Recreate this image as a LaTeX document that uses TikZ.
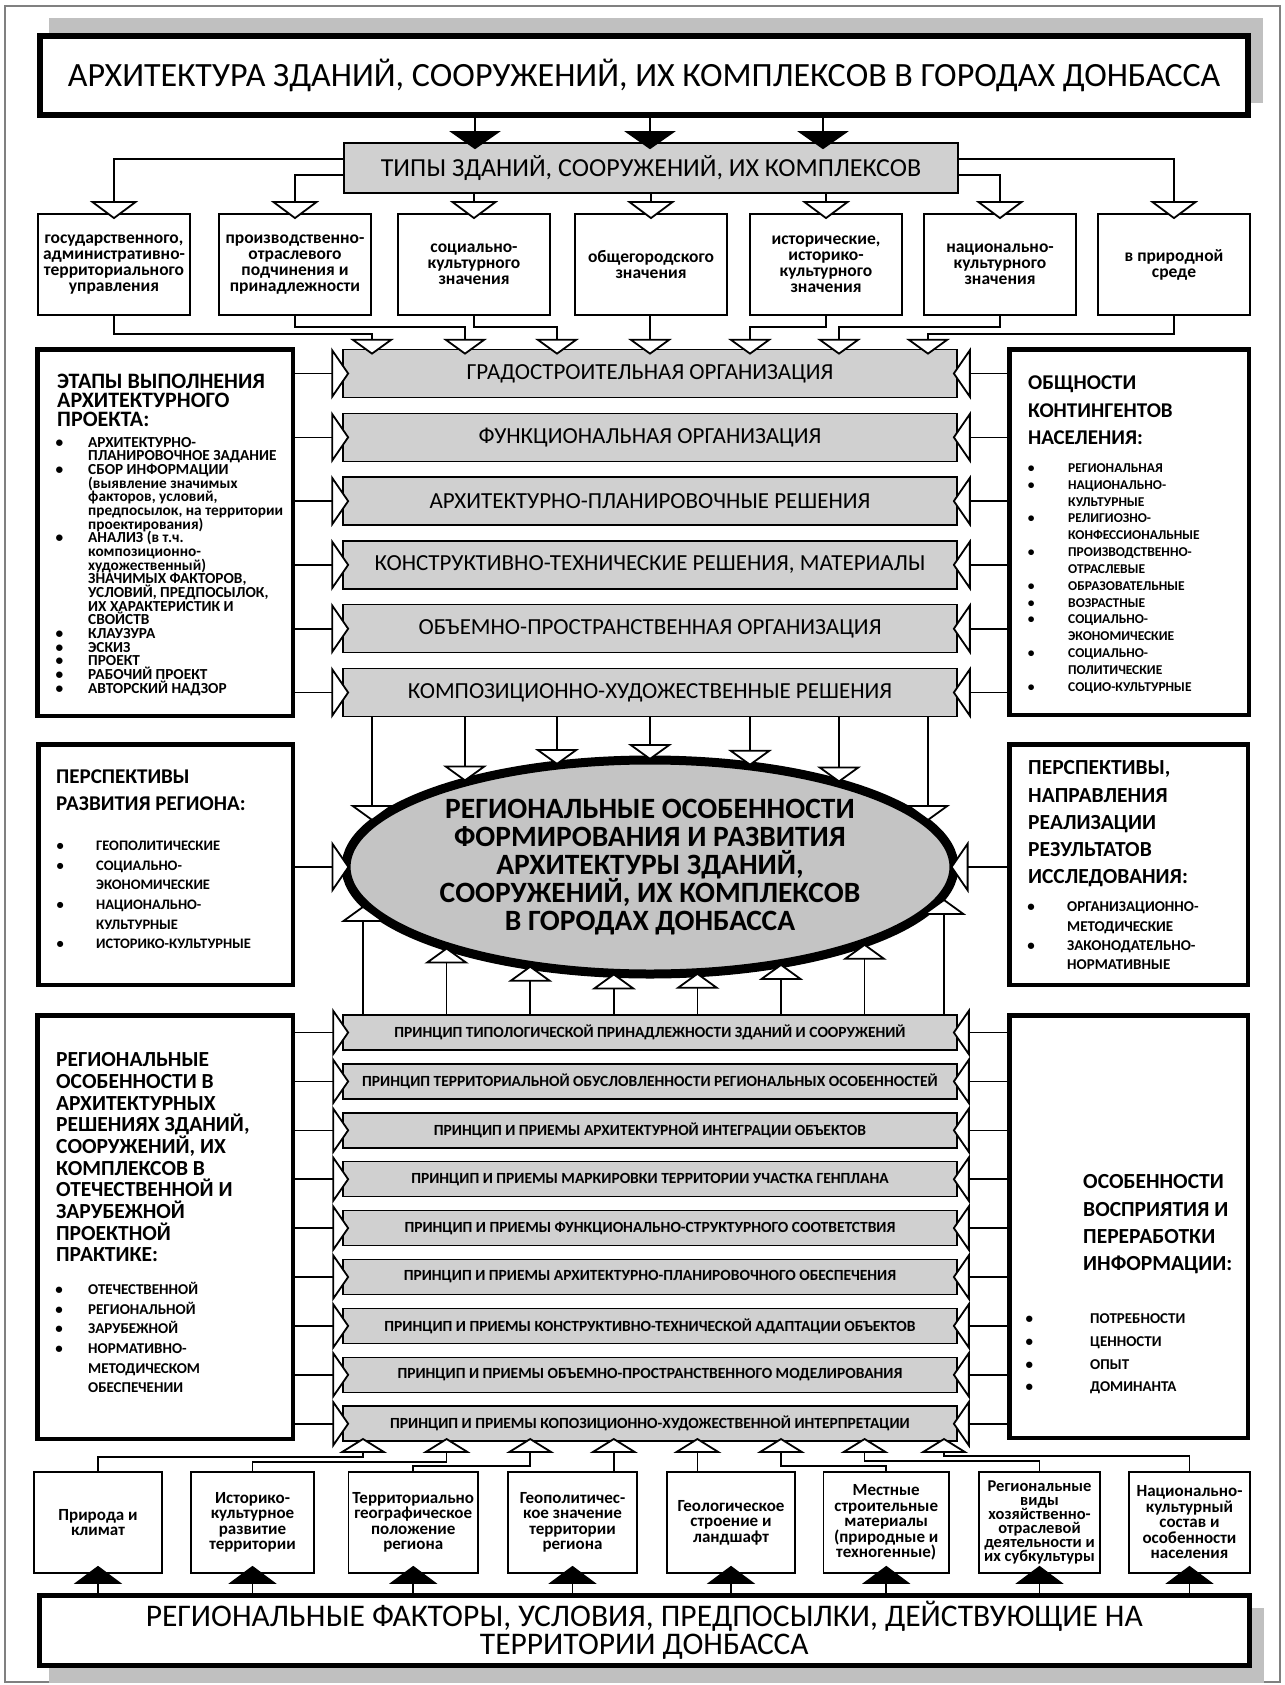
\documentclass[tikz,border=0pt]{standalone}
\usepackage{fontspec}
\setmainfont{Carlito}
\usepackage{tikz}
\usetikzlibrary{arrows.meta,calc,shapes.geometric}
\pgfdeclarelayer{bg}
\pgfsetlayers{bg,main}
\definecolor{bandgray}{HTML}{D0D0D0}
\definecolor{ellgray}{HTML}{C4C4C4}
\definecolor{shadowgray}{HTML}{C0C0C0}
\definecolor{framegray}{HTML}{808080}
\newcommand\fs[2]{\fontsize{#1}{#2}\selectfont\lineskiplimit=-100pt\lineskip=0pt\relax}
\newcommand\vtl[1]{\vtop{\halign{##\hfil\cr#1\crcr}}}
\newcommand\bu[1]{\llap{\textbullet\hskip#1pt}}
\begin{document}
\begin{tikzpicture}[x=1pt,y=-1pt,
  con/.style={draw=black, line width=1.6pt},
  tipA/.style={-{Triangle[width=44pt,length=16pt,fill=white,line width=1.8pt]}},
  tipT/.style={-{Triangle[width=48pt,length=18pt,fill=white,line width=1.8pt]}},
  tipS/.style={-{Triangle[width=52pt,length=18pt,fill=white,line width=1.8pt]}},
  tipP/.style={-{Triangle[width=49pt,length=17pt,fill=white,line width=1.8pt]}},
  tipB/.style={-{Triangle[width=48pt,length=15pt,fill=white,line width=1.8pt]}},
  tipK/.style={-{Triangle[width=51pt,length=18pt]}},
  tipKK/.style={-{Triangle[width=48pt,length=18pt]}},
  gbox/.style={draw=black, line width=1.5pt, fill=bandgray, inner sep=0pt},
  band/.style={gbox, minimum width=614pt, minimum height=48pt, font=\fs{23}{23}},
  pband/.style={gbox, minimum width=614pt, minimum height=35pt, font=\bfseries\fs{15.5}{15.5}},
  tbox/.style={draw=black, line width=1.6pt, fill=white, minimum width=152pt, minimum height=101pt, inner sep=0pt, align=center, font=\bfseries\fs{17.5}{16}},
  fbox/.style={draw=black, line width=1.6pt, fill=white, minimum height=101pt, inner sep=0pt, align=center, font=\bfseries\fs{17}{15.5}},
  sbox/.style={draw=black, line width=4.5pt, fill=white, inner sep=0pt},
  txt/.style={anchor=base west, inner sep=0pt},
]
\useasboundingbox (0,0) rectangle (1284,1685);
\fill[white] (0,0) rectangle (1284,1685);
\draw[framegray, line width=1.5pt] (5,6) rectangle (1280,1682);

% ---------- title ----------
\fill[shadowgray] (49,18) rectangle (1263,103);
\node[draw=black, line width=6pt, fill=white, minimum width=1208pt, minimum height=79pt, inner sep=0pt, font=\fs{34}{34}] (title) at (644,75.5) {АРХИТЕКТУРА ЗДАНИЙ, СООРУЖЕНИЙ, ИХ КОМПЛЕКСОВ В ГОРОДАХ ДОНБАССА};

\node[gbox, minimum width=614pt, minimum height=50pt, font=\fs{26}{26}] (types) at (651,168) {ТИПЫ ЗДАНИЙ, СООРУЖЕНИЙ, ИХ КОМПЛЕКСОВ};

% ---------- type boxes ----------
\node[tbox] (t1) at (114,264.5) {государственного,\\административно-\\территориального\\управления};
\node[tbox] (t2) at (295,264.5) {производственно-\\отраслевого\\подчинения и\\принадлежности};
\node[tbox] (t3) at (474,264.5) {социально-\\культурного\\значения};
\node[tbox] (t4) at (651,264.5) {общегородского\\значения};
\node[tbox] (t5) at (826,264.5) {исторические,\\историко-\\культурного\\значения};
\node[tbox] (t6) at (1000,264.5) {национально-\\культурного\\значения};
\node[tbox] (t7) at (1174,264.5) {в природной\\среде};

% ---------- side boxes ----------
\node[sbox, minimum width=255.5pt, minimum height=366.5pt] (L1) at (165,532.5) {};
\node[sbox, minimum width=239.5pt, minimum height=365.5pt] (R1) at (1129,532) {};
\node[sbox, minimum width=254.5pt, minimum height=240.5pt] (L2) at (165.5,864.5) {};
\node[sbox, minimum width=238.5pt, minimum height=240.5pt] (R2) at (1128.5,864.5) {};
\node[sbox, minimum width=255.5pt, minimum height=423.5pt] (L3) at (165,1227) {};
\node[sbox, minimum width=238.5pt, minimum height=422.5pt] (R3) at (1128.5,1226.5) {};

\node[txt, font=\bfseries\fs{22}{19}] (L1h) at (57,388) {\vtl{ЭТАПЫ ВЫПОЛНЕНИЯ\cr АРХИТЕКТУРНОГО\cr ПРОЕКТА:}};
\node[txt, font=\bfseries\fs{15.3}{13.67}] (L1b) at (88,447) {\vtl{%
\bu{25}АРХИТЕКТУРНО-\cr
ПЛАНИРОВОЧНОЕ ЗАДАНИЕ\cr
\bu{25}СБОР ИНФОРМАЦИИ\cr
(выявление значимых\cr
факторов, условий,\cr
предпосылок, на территории\cr
проектирования)\cr
\bu{25}АНАЛИЗ (в т.ч.\cr
композиционно-\cr
художественный)\cr
ЗНАЧИМЫХ ФАКТОРОВ,\cr
УСЛОВИЙ, ПРЕДПОСЫЛОК,\cr
ИХ ХАРАКТЕРИСТИК И\cr
СВОЙСТВ\cr
\bu{25}КЛАУЗУРА\cr
\bu{25}ЭСКИЗ\cr
\bu{25}ПРОЕКТ\cr
\bu{25}РАБОЧИЙ ПРОЕКТ\cr
\bu{25}АВТОРСКИЙ НАДЗОР}};

\node[txt, font=\bfseries\fs{21}{27.5}] (R1h) at (1028,389.6) {\vtl{ОБЩНОСТИ\cr КОНТИНГЕНТОВ\cr НАСЕЛЕНИЯ:}};
\node[txt, font=\bfseries\fs{13.5}{16.85}] (R1b) at (1068,472.3) {\vtl{%
\bu{33.6}РЕГИОНАЛЬНАЯ\cr
\bu{33.6}НАЦИОНАЛЬНО-\cr
КУЛЬТУРНЫЕ\cr
\bu{33.6}РЕЛИГИОЗНО-\cr
КОНФЕССИОНАЛЬНЫЕ\cr
\bu{33.6}ПРОИЗВОДСТВЕННО-\cr
ОТРАСЛЕВЫЕ\cr
\bu{33.6}ОБРАЗОВАТЕЛЬНЫЕ\cr
\bu{33.6}ВОЗРАСТНЫЕ\cr
\bu{33.6}СОЦИАЛЬНО-\cr
ЭКОНОМИЧЕСКИЕ\cr
\bu{33.6}СОЦИАЛЬНО-\cr
ПОЛИТИЧЕСКИЕ\cr
\bu{33.6}СОЦИО-КУЛЬТУРНЫЕ}};

\node[txt, font=\bfseries\fs{21}{27}] (L2h) at (56,783.6) {\vtl{ПЕРСПЕКТИВЫ\cr РАЗВИТИЯ РЕГИОНА:}};
\node[txt, font=\bfseries\fs{14.5}{19.6}] (L2b) at (96,850.6) {\vtl{%
\bu{32.4}ГЕОПОЛИТИЧЕСКИЕ\cr
\bu{32.4}СОЦИАЛЬНО-\cr
ЭКОНОМИЧЕСКИЕ\cr
\bu{32.4}НАЦИОНАЛЬНО-\cr
КУЛЬТУРНЫЕ\cr
\bu{32.4}ИСТОРИКО-КУЛЬТУРНЫЕ}};

\node[txt, font=\bfseries\fs{21.5}{27.25}] (R2h) at (1028,774.8) {\vtl{ПЕРСПЕКТИВЫ,\cr НАПРАВЛЕНИЯ\cr РЕАЛИЗАЦИИ\cr РЕЗУЛЬТАТОВ\cr ИССЛЕДОВАНИЯ:}};
\node[txt, font=\bfseries\fs{15}{19.3}] (R2b) at (1067,911.7) {\vtl{%
\bu{32.3}ОРГАНИЗАЦИОННО-\cr
МЕТОДИЧЕСКИЕ\cr
\bu{32.3}ЗАКОНОДАТЕЛЬНО-\cr
НОРМАТИВНЫЕ}};

\node[txt, font=\bfseries\fs{21.5}{21.67}] (L3h) at (56,1066.8) {\vtl{РЕГИОНАЛЬНЫЕ\cr ОСОБЕННОСТИ В\cr АРХИТЕКТУРНЫХ\cr РЕШЕНИЯХ ЗДАНИЙ,\cr СООРУЖЕНИЙ, ИХ\cr КОМПЛЕКСОВ В\cr ОТЕЧЕСТВЕННОЙ И\cr ЗАРУБЕЖНОЙ\cr ПРОЕКТНОЙ\cr ПРАКТИКЕ:}};
\node[txt, font=\bfseries\fs{15}{19.6}] (L3b) at (88,1294.7) {\vtl{%
\bu{25.3}ОТЕЧЕСТВЕННОЙ\cr
\bu{25.3}РЕГИОНАЛЬНОЙ\cr
\bu{25.3}ЗАРУБЕЖНОЙ\cr
\bu{25.3}НОРМАТИВНО-\cr
МЕТОДИЧЕСКОМ\cr
ОБЕСПЕЧЕНИИ}};

\node[txt, font=\bfseries\fs{21.5}{27.3}] (R3h) at (1083,1188.8) {\vtl{ОСОБЕННОСТИ\cr ВОСПРИЯТИЯ И\cr ПЕРЕРАБОТКИ\cr ИНФОРМАЦИИ:}};
\node[txt, font=\bfseries\fs{15}{22.7}] (R3b) at (1090,1323.7) {\vtl{%
\bu{57}ПОТРЕБНОСТИ\cr
\bu{57}ЦЕННОСТИ\cr
\bu{57}ОПЫТ\cr
\bu{57}ДОМИНАНТА}};

% ---------- upper bands ----------
\node[band] (g1) at (650,373.5) {ГРАДОСТРОИТЕЛЬНАЯ ОРГАНИЗАЦИЯ};
\node[band] (g2) at (650,437.3) {ФУНКЦИОНАЛЬНАЯ ОРГАНИЗАЦИЯ};
\node[band] (g3) at (650,501.1) {АРХИТЕКТУРНО-ПЛАНИРОВОЧНЫЕ РЕШЕНИЯ};
\node[band] (g4) at (650,564.9) {КОНСТРУКТИВНО-ТЕХНИЧЕСКИЕ РЕШЕНИЯ, МАТЕРИАЛЫ};
\node[band] (g5) at (650,628.7) {ОБЪЕМНО-ПРОСТРАНСТВЕННАЯ ОРГАНИЗАЦИЯ};
\node[band] (g6) at (650,692.5) {КОМПОЗИЦИОННО-ХУДОЖЕСТВЕННЫЕ РЕШЕНИЯ};

% ---------- ellipse ----------
\node[ellipse, draw=black, line width=9pt, fill=ellgray, minimum width=608pt, minimum height=214pt, inner sep=0pt, align=center, font=\bfseries\fs{29.5}{28}] (ell) at (650,867) {РЕГИОНАЛЬНЫЕ ОСОБЕННОСТИ\\ФОРМИРОВАНИЯ И РАЗВИТИЯ\\АРХИТЕКТУРЫ ЗДАНИЙ,\\СООРУЖЕНИЙ, ИХ КОМПЛЕКСОВ\\В ГОРОДАХ ДОНБАССА};

% ---------- principle bands ----------
\node[pband] (p1) at (650,1032.5) {ПРИНЦИП ТИПОЛОГИЧЕСКОЙ ПРИНАДЛЕЖНОСТИ ЗДАНИЙ И СООРУЖЕНИЙ};
\node[pband] (p2) at (650,1081.4) {ПРИНЦИП ТЕРРИТОРИАЛЬНОЙ ОБУСЛОВЛЕННОСТИ РЕГИОНАЛЬНЫХ ОСОБЕННОСТЕЙ};
\node[pband] (p3) at (650,1130.3) {ПРИНЦИП И ПРИЕМЫ АРХИТЕКТУРНОЙ ИНТЕГРАЦИИ ОБЪЕКТОВ};
\node[pband] (p4) at (650,1179.2) {ПРИНЦИП И ПРИЕМЫ МАРКИРОВКИ ТЕРРИТОРИИ УЧАСТКА ГЕНПЛАНА};
\node[pband] (p5) at (650,1228.1) {ПРИНЦИП И ПРИЕМЫ ФУНКЦИОНАЛЬНО-СТРУКТУРНОГО СООТВЕТСТВИЯ};
\node[pband] (p6) at (650,1277.0) {ПРИНЦИП И ПРИЕМЫ АРХИТЕКТУРНО-ПЛАНИРОВОЧНОГО ОБЕСПЕЧЕНИЯ};
\node[pband] (p7) at (650,1325.9) {ПРИНЦИП И ПРИЕМЫ КОНСТРУКТИВНО-ТЕХНИЧЕСКОЙ АДАПТАЦИИ ОБЪЕКТОВ};
\node[pband] (p8) at (650,1374.8) {ПРИНЦИП И ПРИЕМЫ ОБЪЕМНО-ПРОСТРАНСТВЕННОГО МОДЕЛИРОВАНИЯ};
\node[pband] (p9) at (650,1423.7) {ПРИНЦИП И ПРИЕМЫ КОПОЗИЦИОННО-ХУДОЖЕСТВЕННОЙ ИНТЕРПРЕТАЦИИ};

% ---------- factor boxes ----------
\node[fbox, minimum width=128pt] (f1) at (98,1522.5) {Природа и\\климат};
\node[fbox, minimum width=123pt] (f2) at (252.5,1522.5) {Историко-\\культурное\\развитие\\территории};
\node[fbox, minimum width=129.5pt] (f3) at (413.25,1522.5) {Территориально\\географическое\\положение\\региона};
\node[fbox, minimum width=129pt] (f4) at (572.5,1522.5) {Геополитичес-\\кое значение\\территории\\региона};
\node[fbox, minimum width=128pt] (f5) at (731,1522.5) {Геологическое\\строение и\\ландшафт};
\node[fbox, minimum width=125.5pt] (f6) at (886.25,1522.5) {Местные\\строительные\\материалы\\(природные и\\техногенные)};
\node[fbox, minimum width=121pt, font=\bfseries\fs{16.5}{14}] (f7) at (1039.5,1522.5) {Региональные\\виды\\хозяйственно-\\отраслевой\\деятельности и\\их субкультуры};
\node[fbox, minimum width=121pt] (f8) at (1189.5,1522.5) {Национально-\\культурный\\состав и\\особенности\\населения};

% ---------- bottom box ----------
\fill[shadowgray] (48.5,1608) rectangle (1264,1683);
\node[draw=black, line width=5pt, fill=white, minimum width=1210.5pt, minimum height=70pt, inner sep=0pt, align=center, font=\fs{31.5}{28}] (bot) at (644.25,1630.5) {РЕГИОНАЛЬНЫЕ ФАКТОРЫ, УСЛОВИЯ, ПРЕДПОСЫЛКИ, ДЕЙСТВУЮЩИЕ НА\\ТЕРРИТОРИИ ДОНБАССА};

% ---------- column coordinates ----------
\coordinate (k1) at (475,0);
\coordinate (k2) at (650,0);
\coordinate (k3) at (823,0);
\coordinate (e1) at (372,821);
\coordinate (e2) at (465,781.5);
\coordinate (e3) at (557,765);
\coordinate (e4) at (650,760);
\coordinate (e5) at (750,765.8);
\coordinate (e6) at (839,782.5);
\coordinate (e7) at (928,821);
\coordinate (b1) at (363,905.8);
\coordinate (b2) at (446.6,947.4);
\coordinate (b3) at (530.2,965.6);
\coordinate (b4) at (613.8,973.3);
\coordinate (b5) at (697.4,972.7);
\coordinate (b6) at (781,963.8);
\coordinate (b7) at (864.6,943.7);
\coordinate (b8) at (944,898.9);

% ---------- connectors ----------
\foreach \k in {k1,k2,k3}
  \draw[con,tipK] (title.south -| \k) -- ($(types.north -| \k)+(0,7)$);

\draw[con,tipT] ($(types.west)+(0,-9)$) -| ($(t1.north)+(0,6)$);
\draw[con,tipT] ($(types.west)+(0,7)$) -| ($(t2.north)+(0,6)$);
\draw[con,tipT] (types.south -| t3.north) -- ($(t3.north)+(0,6)$);
\draw[con,tipT] (types.south -| t4.north) -- ($(t4.north)+(0,6)$);
\draw[con,tipT] (types.south -| t5.north) -- ($(t5.north)+(0,6)$);
\draw[con,tipT] ($(types.east)+(0,7)$) -| ($(t6.north)+(0,6)$);
\draw[con,tipT] ($(types.east)+(0,-9)$) -| ($(t7.north)+(0,6)$);

\draw[con,tipA] (t1.south) -- ++(0,18) -| ($(g1.north -| e1)+(0,6)$);
\draw[con,tipA] (t2.south) -- ++(0,11) -| ($(g1.north -| e2)+(0,6)$);
\draw[con,tipA] (t3.south) -- ++(0,11) -| ($(g1.north -| e3)+(0,6)$);
\draw[con,tipA] (t4.south -| e4) -- ($(g1.north -| e4)+(0,6)$);
\draw[con,tipA] (t5.south) -- ++(0,11) -| ($(g1.north -| e5)+(0,6)$);
\draw[con,tipA] (t6.south) -- ++(0,11) -| ($(g1.north -| e6)+(0,6)$);
\draw[con,tipA] (t7.south) -- ++(0,18) -| ($(g1.north -| e7)+(0,6)$);

\begin{pgfonlayer}{bg}
\foreach \e in {e1,e2,e3,e4,e5,e6,e7}
  \draw[con] (g1.center -| \e) -- (g6.center -| \e);
\foreach \b in {b1,b2,b3,b4,b5,b6,b7,b8}
  \draw[con] (p1.center -| \b) -- (p9.center -| \b);
\end{pgfonlayer}

\foreach \i in {1,...,6} {
  \draw[con,tipS] (L1.east |- g\i) -- ($(g\i.west)+(7,0)$);
  \draw[con,tipS] (R1.west |- g\i) -- ($(g\i.east)+(-5,0)$);
}
\foreach \i in {1,...,9} {
  \draw[con,tipP] (L3.east |- p\i) -- ($(p\i.west)+(7,0)$);
  \draw[con,tipP] (R3.west |- p\i) -- ($(p\i.east)+(-5,0)$);
}

\foreach \e in {e1,e2,e3,e4,e5,e6,e7}
  \draw[con,tipA] (g6.south -| \e) -- (\e);
\foreach \b in {b1,b2,b3,b4,b5,b6,b7,b8}
  \draw[con,tipA] (p1.north -| \b) -- (\b);

\draw[con,tipS] (L2.east |- ell.center) -- ($(ell.west)+(8,0)$);
\draw[con,tipS] (R2.west |- ell.center) -- ($(ell.east)+(-8,0)$);

\draw[con,tipB] (f1.north) -- ++(0,-14) -| ($(p9.south -| b1)+(0,-4)$);
\draw[con,tipB] (f2.north) -- ++(0,-9) -| ($(p9.south -| b2)+(0,-4)$);
\draw[con,tipB] (f3.north) -- ++(0,-5) -| ($(p9.south -| b3)+(0,-4)$);
\draw[con,tipB] (f4.north -| b4) -- ($(p9.south -| b4)+(0,-4)$);
\draw[con,tipB] (f5.north -| b5) -- ($(p9.south -| b5)+(0,-4)$);
\draw[con,tipB] (f6.north) -- ++(0,-5) -| ($(p9.south -| b6)+(0,-4)$);
\draw[con,tipB] (f7.north) -- ++(0,-10) -| ($(p9.south -| b7)+(0,-4)$);
\draw[con,tipB] (f8.north) -- ++(0,-15) -| ($(p9.south -| b8)+(0,-4)$);

\foreach \f in {f1,f2,f3,f4,f5,f6,f7,f8}
  \draw[con,tipKK] (bot.north -| \f) -- ($(\f.south)+(0,-8)$);
\end{tikzpicture}
\end{document}
